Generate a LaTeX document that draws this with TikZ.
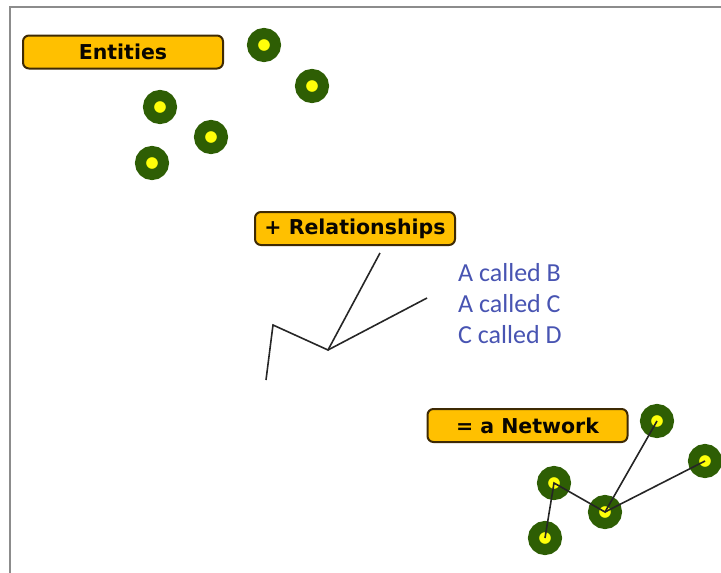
\documentclass[tikz,border=0pt]{standalone}
\usepackage{fontspec}
\usepackage{tikz}
\usetikzlibrary{positioning}
\newfontfamily\labelfont{DejaVu Sans}
\newfontfamily\notefont{Carlito}
\definecolor{TagFill}{RGB}{255,192,0}
\definecolor{TagEdge}{RGB}{62,42,4}
\definecolor{RingGreen}{RGB}{46,94,4}
\definecolor{CoreYellow}{RGB}{255,255,10}
\definecolor{NoteBlue}{RGB}{72,84,178}
\definecolor{FrameGray}{RGB}{140,140,140}

\begin{document}
\begin{tikzpicture}[x=1pt,y=-1pt,
        tag/.style={draw=TagEdge,fill=TagFill,line width=2pt,rounded corners=6pt,
                    minimum width=200pt,minimum height=33pt,inner sep=0pt,
                    font=\labelfont\bfseries\fontsize{20.5}{24}\selectfont,text=black!85!TagEdge},
        nd/.style={circle,draw=RingGreen,fill=CoreYellow,line width=11pt,
                   minimum size=23pt,inner sep=0pt},
        note/.style={anchor=west,inner sep=0pt,text=NoteBlue,
                     font=\notefont\fontsize{26}{30}\selectfont},
        link/.style={black!85,line width=1.6pt}
      ]
        \useasboundingbox (0,0) rectangle (721,573);
        \draw[FrameGray,line width=2pt] (10,573) -- (10,7) -- (721,7);

        % entities
        \node[tag] (entities) at (123,52) {Entities};
        \node[nd] (e1) at (264,45) {};
        \node[nd] (e2) at (312,86) {};
        \node[nd] (e3) at (160,107) {};
        \node[nd] (e4) at (211,137) {};
        \node[nd] (e5) at (152,163) {};

        % relationships
        \node[tag] (relations) at (355,228.5) {+ Relationships};
        \coordinate (r1) at (266,380);
        \coordinate (r2) at (273,325);
        \coordinate (r3) at (328,350);
        \coordinate (r4) at (380,253);
        \coordinate (r5) at (427,298);
        \draw[link] (r1) -- (r2) -- (r3) -- (r4);
        \draw[link] (r3) -- (r5);
        \node[note] (callAB) at (458,273) {A called B};
        \node[note] (callAC) at (458,304) {A called C};
        \node[note] (callCD) at (458,335) {C called D};

        % network
        \node[tag] (network) at (527.5,425.5) {= a Network};
        \node[nd] (n1) at (657,421) {};
        \node[nd] (n2) at (705,461) {};
        \node[nd] (n3) at (554,483) {};
        \node[nd] (n4) at (605,512) {};
        \node[nd] (n5) at (545,538) {};
        \draw[link] (n5.center) -- (n3.center) -- (n4.center) -- (n1.center);
        \draw[link] (n4.center) -- (n2.center);
      \end{tikzpicture}
\end{document}
